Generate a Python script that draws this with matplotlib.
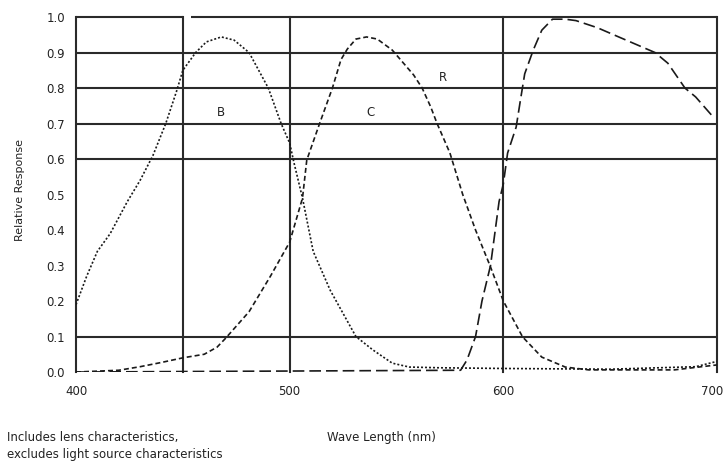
import matplotlib
matplotlib.use("Agg")
import matplotlib.pyplot as plt
from matplotlib.transforms import ScaledTranslation

# ---- data ----
B_nm = [400, 405, 410, 416, 424, 430, 436, 442, 447, 450, 456, 461, 468, 474, 481, 490, 496, 500, 502, 506, 511, 519, 531, 539, 548, 556, 570, 600, 650, 690, 700]
B_val = [0.19, 0.27, 0.34, 0.39, 0.48, 0.54, 0.61, 0.70, 0.79, 0.85, 0.90, 0.93, 0.944, 0.935, 0.90, 0.80, 0.70, 0.645, 0.59, 0.49, 0.34, 0.23, 0.10, 0.062, 0.025, 0.014, 0.012, 0.01, 0.008, 0.015, 0.03]

C_nm = [400, 420, 430, 440, 450, 460, 466, 470, 481, 491, 500, 506, 508, 514, 520, 524, 527, 531, 536, 541, 548, 558, 562, 566, 569, 575, 581, 587, 594, 600, 609, 618, 629, 640, 680, 700]
C_val = [0.0, 0.005, 0.015, 0.027, 0.04, 0.05, 0.07, 0.095, 0.17, 0.27, 0.366, 0.49, 0.597, 0.70, 0.80, 0.88, 0.91, 0.938, 0.944, 0.938, 0.907, 0.837, 0.80, 0.747, 0.70, 0.617, 0.50, 0.40, 0.296, 0.20, 0.099, 0.042, 0.014, 0.006, 0.006, 0.02]

R_nm = [400, 580, 583, 587, 590, 594, 598, 600, 602, 606, 608, 610, 614, 618, 623, 629, 634, 644, 654, 671, 677, 685, 690, 698]
R_val = [0.0, 0.005, 0.034, 0.10, 0.20, 0.30, 0.48, 0.53, 0.617, 0.69, 0.766, 0.84, 0.907, 0.963, 0.994, 0.994, 0.99, 0.97, 0.944, 0.90, 0.87, 0.80, 0.775, 0.72]

x_ticks = [400, 500, 600, 700]
y_ticks = [0.0, 0.1, 0.2, 0.3, 0.4, 0.5, 0.6, 0.7, 0.8, 0.9, 1.0]
h_grid = [0.1, 0.6, 0.7, 0.8, 0.9]
v_grid = [400, 450, 500, 600, 700]

labels = [("B", 468, 0.73), ("C", 538, 0.73), ("R", 571.5, 0.83)]

# ---- figure ----
fig = plt.figure(figsize=(7.26, 4.61), dpi=100)
ax = fig.add_axes([0.1047, 0.193, 0.8829, 0.770])
ax.set_xlim(400, 700)
ax.set_ylim(0, 1.0)

gc = "#2a2a2a"
for y in h_grid:
    ax.axhline(y, color=gc, lw=1.5, zorder=1)
# top border with small gap
ax.plot([400, 450], [1.0, 1.0], color=gc, lw=1.5, clip_on=False, solid_capstyle="butt")
ax.plot([453.8, 700], [1.0, 1.0], color=gc, lw=1.5, clip_on=False, solid_capstyle="butt")
for x in v_grid:
    ax.axvline(x, color=gc, lw=1.5, zorder=1, clip_on=False)

for s in ax.spines.values():
    s.set_visible(False)

cc = "#1a1a1a"
ax.plot(B_nm, B_val, color=cc, lw=1.2, linestyle=(0, (1.2, 1.2)), zorder=3)
ax.plot(C_nm, C_val, color=cc, lw=1.2, linestyle=(0, (3, 1.8)), zorder=3)
ax.plot(R_nm, R_val, color=cc, lw=1.2, linestyle=(0, (7, 3)), zorder=3)

for t, x, y in labels:
    ax.text(x, y, t, fontsize=8.5, ha="center", va="center", color="#222")

ax.set_xticks(x_ticks)
ax.set_xticklabels([str(v) for v in x_ticks])
ax.set_yticks(y_ticks)
ax.set_yticklabels([f"{v:.1f}" for v in y_ticks])
ax.tick_params(axis="both", length=0, labelsize=8.5, colors="#222")
ax.tick_params(axis="y", pad=8)
ax.tick_params(axis="x", pad=9)
# nudge last x label so it stays inside the canvas
last = ax.get_xticklabels()[-1]
last.set_transform(last.get_transform() + ScaledTranslation(-0.05, 0, fig.dpi_scale_trans))

fig.text(0.028, 0.587, "Relative Response", rotation=90, fontsize=8, ha="center", va="center", color="#222")
fig.text(0.45, 0.052, "Wave Length (nm)", fontsize=8.5, ha="left", va="center", color="#222")
fig.text(0.009, 0.052, "Includes lens characteristics,", fontsize=8.5, ha="left", va="center", color="#222")
fig.text(0.009, 0.014, "excludes light source characteristics", fontsize=8.5, ha="left", va="center", color="#222")

fig.savefig("out.png", dpi=100, facecolor="white")
